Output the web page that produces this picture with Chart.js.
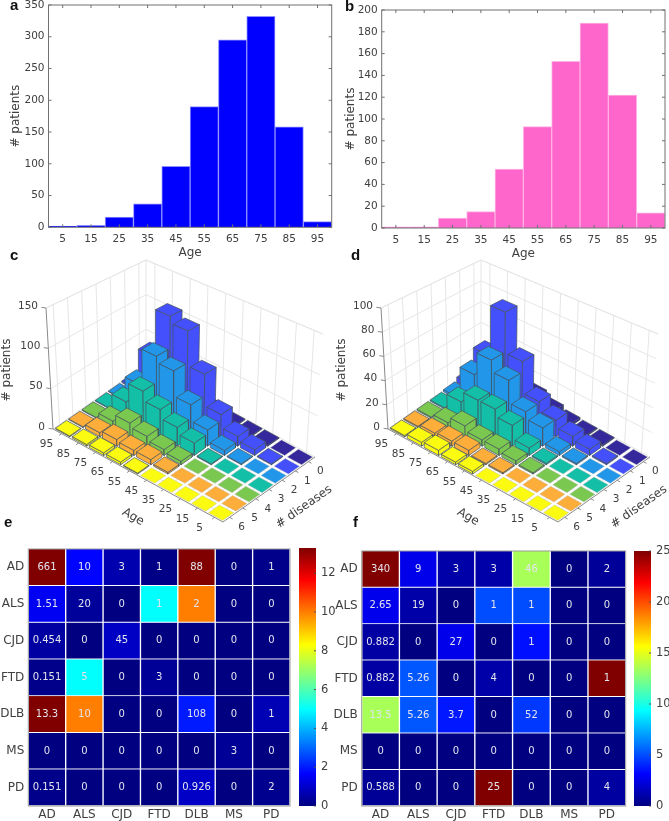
<!DOCTYPE html>
<html lang="en">
<head>
<meta charset="UTF-8">
<title>Patients by age and number of diseases</title>
<script src="https://cdn.jsdelivr.net/npm/chart.js"></script>
<style>
    html, body { margin: 0; padding: 0; background: #fff; }
    #page { position: relative; width: 669px; height: 821px; overflow: hidden; }
    canvas { position: absolute; }
    .tag { position: absolute; font: bold 15px 'Liberation Sans', sans-serif; color: #111; line-height: 15px; }
</style>
</head>
<body>
<div id="page"></div>

<script>
    // --- data ---
    const ageLabels = ['5', '15', '25', '35', '45', '55', '65', '75', '85', '95'];
    const diseaseLabels = ['0', '1', '2', '3', '4', '5', '6'];
    const dxLabels = ['AD', 'ALS', 'CJD', 'FTD', 'DLB', 'MS', 'PD'];

    const ageCountsA = [2, 3, 16, 37, 96, 190, 295, 332, 158, 9];
    const ageCountsB = [1, 1, 9, 15, 54, 93, 153, 188, 122, 14];

    // rows: age bin 5..95, columns: # diseases 0..6
    const barsC = [
        [0, 0, 0, 0, 0, 0, 0],
        [0, 1, 0, 0, 0, 0, 0],
        [1, 7, 1, 0, 0, 0, 0],
        [1, 12, 6, 1, 0, 0, 0],
        [1, 28, 20, 15, 4, 2, 0],
        [5, 68, 40, 23, 7, 6, 1],
        [15, 113, 72, 34, 12, 6, 3],
        [25, 122, 80, 46, 17, 8, 3],
        [8, 58, 32, 21, 8, 5, 2],
        [0, 2, 1, 1, 1, 1, 1]
    ];
    const barsD = [
        [0, 0, 0, 0, 0, 0, 0],
        [0, 1, 0, 0, 0, 0, 0],
        [1, 5, 1, 0, 0, 0, 0],
        [1, 8, 3, 1, 1, 0, 0],
        [2, 14, 15, 6, 3, 1, 0],
        [5, 22, 21, 17, 5, 1, 2],
        [10, 49, 40, 23, 5, 4, 2],
        [12, 85, 50, 23, 9, 4, 4],
        [5, 40, 30, 14, 4, 3, 3],
        [1, 5, 2, 1, 1, 1, 1]
    ];
    const diseaseColors = ['#35289c', '#4350fb', '#2297ea', '#14bfa8', '#7bc850', '#fdae3a', '#fbfb12'];

    // text printed in the cells
    const cellTextE = [
        ['661', '10', '3', '1', '88', '0', '1'],
        ['1.51', '20', '0', '1', '2', '0', '0'],
        ['0.454', '0', '45', '0', '0', '0', '0'],
        ['0.151', '5', '0', '3', '0', '0', '0'],
        ['13.3', '10', '0', '0', '108', '0', '1'],
        ['0', '0', '0', '0', '0', '3', '0'],
        ['0.151', '0', '0', '0', '0.926', '0', '2']
    ];
    const cellTextF = [
        ['340', '9', '3', '3', '46', '0', '2'],
        ['2.65', '19', '0', '1', '1', '0', '0'],
        ['0.882', '0', '27', '0', '1', '0', '0'],
        ['0.882', '5.26', '0', '4', '0', '0', '1'],
        ['13.5', '5.26', '3.7', '0', '52', '0', '0'],
        ['0', '0', '0', '0', '0', '0', '0'],
        ['0.588', '0', '0', '25', '0', '0', '4']
    ];
    // colour level of the cells
    const cellLevelE = [
        [13.3, 1.7, 0.6, 0.1, 13.3, 0, 0.15],
        [1.51, 0.35, 0, 5, 10, 0, 0],
        [0.454, 0, 0.9, 0, 0, 0, 0],
        [0.151, 5, 0, 0.3, 0, 0, 0],
        [13.3, 10, 0, 0, 2, 0, 0.7],
        [0, 0, 0, 0, 0, 0.3, 0],
        [0.151, 0, 0, 0, 0.926, 0, 0.2]
    ];
    const cellLevelF = [
        [25, 2.6, 1, 1, 13.5, 0, 0.6],
        [2.65, 1, 0, 5, 5, 0, 0],
        [0.882, 0, 2.6, 0, 3.5, 0, 0],
        [0.882, 5.26, 0, 1, 0, 0, 25],
        [13.5, 5.26, 3.7, 0, 4.5, 0, 0],
        [0, 0, 0, 0, 0, 0, 0],
        [0.588, 0, 0, 25, 0, 0, 0.8]
    ];

    // --- common ---
    Chart.defaults.font.family = "'DejaVu Sans', sans-serif";
    Chart.defaults.font.size = 10.5;
    Chart.defaults.color = '#404040';
    Chart.defaults.animation = false;
    Chart.defaults.responsive = false;
    Chart.defaults.plugins.legend.display = false;
    Chart.defaults.plugins.tooltip.enabled = false;

    const noGrid = { display: false, drawTicks: false, tickLength: 0 };

    const page = document.getElementById('page');
    function addCanvas(left, top, w, h) {
        const c = document.createElement('canvas');
        c.width = w; c.height = h;
        c.style.left = left + 'px'; c.style.top = top + 'px';
        c.style.width = w + 'px'; c.style.height = h + 'px';
        page.appendChild(c);
        return c;
    }
    function addTag(text, x, y) {
        const d = document.createElement('div');
        d.className = 'tag'; d.textContent = text;
        d.style.left = x + 'px'; d.style.top = y + 'px';
        page.appendChild(d);
    }
    // fixed axis size, and no room reserved for half a tick label
    function fixSize(s, prop, size) {
        s[prop] = size;
        s.paddingLeft = s.paddingRight = s.paddingTop = s.paddingBottom = 0;
    }

    // box with inward ticks, like the matlab axes
    const boxTicks = {
        id: 'boxTicks',
        afterDatasetsDraw(chart) {
            const { ctx, chartArea: a, scales } = chart;
            ctx.save();
            ctx.strokeStyle = '#707070';
            ctx.lineWidth = 1;
            ctx.strokeRect(a.left, a.top, a.right - a.left, a.bottom - a.top);
            ctx.beginPath();
            scales.x.ticks.forEach((t, i) => {
                const x = scales.x.getPixelForTick(i);
                ctx.moveTo(x, a.bottom); ctx.lineTo(x, a.bottom - 3);
                ctx.moveTo(x, a.top); ctx.lineTo(x, a.top + 3);
            });
            scales.y.ticks.forEach((t, i) => {
                const y = scales.y.getPixelForTick(i);
                ctx.moveTo(a.left, y); ctx.lineTo(a.left + 3, y);
                ctx.moveTo(a.right, y); ctx.lineTo(a.right - 3, y);
            });
            ctx.stroke();
            ctx.restore();
        }
    };

    // --- a, b: histograms ---
    function histogram(canvas, values, color, edge, yMax, step, yWidth, pad) {
        new Chart(canvas, {
            type: 'bar',
            data: { labels: ageLabels, datasets: [{ data: values, backgroundColor: color, borderColor: edge, borderWidth: 1, categoryPercentage: 1, barPercentage: 1 }] },
            options: {
                layout: { padding: pad },
                scales: {
                    x: {
                        grid: noGrid, border: { display: false },
                        ticks: { padding: 6, maxRotation: 0, autoSkip: false },
                        title: { display: true, text: 'Age', font: { size: 12 }, padding: { top: 0, bottom: 2 } },
                        afterFit: s => fixSize(s, 'height', 35)
                    },
                    y: {
                        min: 0, max: yMax,
                        grid: noGrid, border: { display: false },
                        ticks: { stepSize: step, padding: 4 },
                        title: { display: true, text: '# patients', font: { size: 12 }, padding: { top: 9, bottom: 0 } },
                        afterFit: s => fixSize(s, 'width', yWidth)
                    }
                }
            },
            plugins: [boxTicks]
        });
    }
    histogram(addCanvas(0, 0, 335, 263), ageCountsA, '#0000ff', '#8f8fff', 350, 50, 48.5, { top: 5, right: 3.3, bottom: 0.7, left: 0 });
    histogram(addCanvas(335, 0, 334, 263), ageCountsB, '#ff66cc', '#ffb0e4', 200, 20, 46.7, { top: 10, right: 4, bottom: 0, left: 0 });

    // --- c, d: 3d bars, projected on a flat chart ---
    const viewW = 334, viewH = 290, viewTop = 250;
    // view box corners in chart units: [floor, top of z axis]
    const cornerR = [[315, 207], [323, 84]];
    const cornerF = [[223, 272], [225, 134]];
    const cornerB = [[146, 114], [146, 10]];
    const cornerL = [[53, 179], [46, 58]];

    function project(age, dis, zFrac) {
        const u = (age + 0.5) / ageLabels.length, v = (dis + 0.5) / diseaseLabels.length;
        const mix = k => {
            const near = cornerR[0][k] * (1 - v) + cornerF[0][k] * v, far = cornerB[0][k] * (1 - v) + cornerL[0][k] * v;
            const nearT = cornerR[1][k] * (1 - v) + cornerF[1][k] * v, farT = cornerB[1][k] * (1 - v) + cornerL[1][k] * v;
            const low = near * (1 - u) + far * u, high = nearT * (1 - u) + farT * u;
            return low * (1 - zFrac) + high * zFrac;
        };
        return { x: mix(0), y: mix(1) };
    }
    const wire = (points, color, width) => ({ data: points, showLine: true, fill: false, borderColor: color, borderWidth: width, pointRadius: 0 });
    const face = (points, color, edge, width) => ({ data: points.concat(points[0]), showLine: true, fill: 'shape', backgroundColor: color, borderColor: edge, borderWidth: width, pointRadius: 0 });

    function bars3d(canvas, matrix, zMax, zTicks) {
        const nA = ageLabels.length, nD = diseaseLabels.length;
        const aLo = -0.5, aHi = nA - 0.5, dLo = -0.5, dHi = nD - 0.5;
        const grid = '#e6e6e6';
        const ds = [];   // painted in this order, reversed at the end

        // walls and floor grid
        ageLabels.forEach((_, a) => {
            ds.push(wire([project(a, dLo, 0), project(a, dLo, 1)], grid, 1));
            ds.push(wire([project(a, dLo, 0), project(a, dHi, 0)], grid, 1));
        });
        diseaseLabels.forEach((_, d) => {
            ds.push(wire([project(aHi, d, 0), project(aHi, d, 1)], grid, 1));
            ds.push(wire([project(aLo, d, 0), project(aHi, d, 0)], grid, 1));
        });
        zTicks.forEach(z => {
            const f = z / zMax;
            ds.push(wire([project(aHi, dHi, f), project(aHi, dLo, f), project(aLo, dLo, f)], grid, 1));
        });
        ds.push(wire([project(aHi, dLo, 0), project(aHi, dLo, 1)], grid, 1));
        ds.push(wire([project(aHi, dHi, 1), project(aHi, dLo, 1), project(aLo, dLo, 1)], grid, 1));

        // axis lines and ticks
        const axis = '#8a8a8a';
        ds.push(wire([project(aHi, dHi, 1), project(aHi, dHi, 0), project(aLo, dHi, 0), project(aLo, dLo, 0)], axis, 1));
        ageLabels.forEach((_, a) => ds.push(wire([project(a, dHi, 0), project(a, dHi + 0.18, 0)], axis, 1)));
        diseaseLabels.forEach((_, d) => ds.push(wire([project(aLo, d, 0), project(aLo - 0.18, d, 0)], axis, 1)));
        zTicks.forEach(z => ds.push(wire([project(aHi, dHi, z / zMax), project(aHi + 0.18, dHi + 0.1, z / zMax)], axis, 1)));

        // bars back to front
        const half = 0.42;
        const cells = [];
        matrix.forEach((row, a) => row.forEach((val, d) => cells.push({ a, d, val })));
        cells.sort((p, q) => (q.a - q.d) - (p.a - p.d));
        cells.forEach(({ a, d, val }) => {
            const f = val / zMax, c = diseaseColors[d], edge = '#46525c';
            const a0 = a - half, a1 = a + half, d0 = d - half, d1 = d + half;
            if (val > 0) {
                ds.push(face([project(a0, d1, 0), project(a1, d1, 0), project(a1, d1, f), project(a0, d1, f)], c, edge, 0.7));
                ds.push(face([project(a0, d0, 0), project(a0, d1, 0), project(a0, d1, f), project(a0, d0, f)], c, edge, 0.7));
            }
            ds.push(face([project(a0, d0, f), project(a0, d1, f), project(a1, d1, f), project(a1, d0, f)], c, val > 0 ? edge : '#b8b8b8', val > 0 ? 0.7 : 0.4));
        });

        const labels3d = {
            id: 'labels3d',
            afterDatasetsDraw(chart) {
                const { ctx, scales: { x, y } } = chart;
                const px = p => [x.getPixelForValue(p.x), y.getPixelForValue(p.y)];
                ctx.save();
                ctx.fillStyle = '#404040';
                ctx.font = "10.5px 'DejaVu Sans'";
                ctx.textAlign = 'center'; ctx.textBaseline = 'middle';
                ageLabels.forEach((t, a) => {
                    const [X, Y] = px(project(a, dHi, 0));
                    ctx.fillText(t, X - 15, Y + 11);
                });
                diseaseLabels.forEach((t, d) => {
                    const [X, Y] = px(project(aLo, d, 0));
                    ctx.fillText(t, X + 12, Y + 10);
                });
                ctx.textAlign = 'right';
                zTicks.forEach(z => {
                    const [X, Y] = px(project(aHi, dHi, z / zMax));
                    ctx.fillText(String(z), X - 8, Y - 2);
                });
                ctx.font = "12px 'DejaVu Sans'";
                ctx.textAlign = 'center';
                const rotated = (t, X, Y, deg) => {
                    ctx.save(); ctx.translate(X, Y); ctx.rotate(deg * Math.PI / 180);
                    ctx.fillText(t, 0, 0); ctx.restore();
                };
                rotated('Age', x.getPixelForValue(133), y.getPixelForValue(267), 30);
                rotated('# diseases', x.getPixelForValue(304), y.getPixelForValue(257), -35);
                rotated('# patients', x.getPixelForValue(7), y.getPixelForValue(120), -90);
                ctx.restore();
            }
        };

        new Chart(canvas, {
            type: 'scatter',
            data: { datasets: ds.reverse() },
            options: {
                layout: { padding: 0 },
                clip: false,
                scales: {
                    x: { display: false, min: 0, max: viewW },
                    y: { display: false, min: 0, max: viewH, reverse: true }
                }
            },
            plugins: [labels3d]
        });
    }
    bars3d(addCanvas(0, viewTop, viewW, viewH), barsC, 150, [0, 50, 100, 150]);
    bars3d(addCanvas(335, viewTop, viewW, viewH), barsD, 100, [0, 20, 40, 60, 80, 100]);

    // --- e, f: matrices with colorbar ---
    function jet(t) {
        const c = v => Math.round(255 * Math.min(1, Math.max(0, v)));
        return `rgb(${c(1.5 - Math.abs(4 * t - 3))},${c(1.5 - Math.abs(4 * t - 2))},${c(1.5 - Math.abs(4 * t - 1))})`;
    }

    function matrix(canvas, text, levels, maxLevel, yWidth, pad) {
        const cellLabels = {
            id: 'cellLabels',
            afterDatasetsDraw(chart) {
                const { ctx } = chart;
                ctx.save();
                ctx.fillStyle = '#e4e4ee';
                ctx.font = "10px 'DejaVu Sans'";
                ctx.textAlign = 'center'; ctx.textBaseline = 'middle';
                text.forEach((row, r) => {
                    const meta = chart.getDatasetMeta(r);
                    row.forEach((t, c) => {
                        const p = meta.data[c].getCenterPoint();
                        ctx.fillText(t, p.x, p.y);
                    });
                });
                ctx.strokeStyle = '#9a9a9a';
                const a = chart.chartArea;
                ctx.strokeRect(a.left, a.top, a.right - a.left, a.bottom - a.top);
                ctx.restore();
            }
        };
        new Chart(canvas, {
            type: 'bar',
            data: {
                labels: dxLabels,
                datasets: dxLabels.map((_, r) => ({
                    data: dxLabels.map(() => 1),
                    backgroundColor: levels[r].map(v => jet(Math.min(1, v / maxLevel))),
                    borderColor: '#ffffff', borderWidth: 1, categoryPercentage: 1, barPercentage: 1
                }))
            },
            options: {
                layout: { padding: pad },
                scales: {
                    x: {
                        stacked: true,
                        grid: noGrid, border: { display: false },
                        ticks: { font: { size: 12 }, padding: 2, maxRotation: 0, autoSkip: false },
                        afterFit: s => fixSize(s, 'height', 15)
                    },
                    y: {
                        stacked: true, min: 0, max: dxLabels.length, reverse: true,
                        grid: noGrid, border: { display: false },
                        afterBuildTicks: s => { s.ticks = dxLabels.map((_, i) => ({ value: i + 0.5 })); },
                        ticks: { font: { size: 12 }, padding: 4, autoSkip: false, callback: v => dxLabels[v - 0.5] },
                        afterFit: s => fixSize(s, 'width', yWidth)
                    }
                }
            },
            plugins: [cellLabels]
        });
    }

    function colorbar(canvas, maxLevel, step) {
        const tickMarks = {
            id: 'tickMarks',
            afterDatasetsDraw(chart) {
                const { ctx, chartArea: a, scales: { y } } = chart;
                ctx.save();
                ctx.strokeStyle = '#505050';
                ctx.beginPath();
                y.ticks.forEach((t, i) => {
                    const p = y.getPixelForTick(i);
                    ctx.moveTo(a.right, p); ctx.lineTo(a.right - 2, p);
                });
                ctx.stroke();
                ctx.restore();
            }
        };
        new Chart(canvas, {
            type: 'bar',
            data: {
                labels: [''],
                datasets: [{
                    data: [[0, maxLevel]],
                    categoryPercentage: 1, barPercentage: 1,
                    backgroundColor: ctx => {
                        const a = ctx.chart.chartArea;
                        if (!a) return '#000080';
                        const g = ctx.chart.ctx.createLinearGradient(0, a.bottom, 0, a.top);
                        for (let i = 0; i <= 32; i++) g.addColorStop(i / 32, jet(i / 32));
                        return g;
                    }
                }]
            },
            options: {
                layout: { padding: { top: 10, bottom: 10, left: 0, right: 0 } },
                scales: {
                    x: { display: false },
                    y: {
                        position: 'right', min: 0, max: maxLevel,
                        grid: noGrid, border: { display: false },
                        afterBuildTicks: s => { s.ticks = s.ticks.filter(t => t.value % step === 0); },
                        ticks: { font: { size: 11.5 }, stepSize: step, padding: 5 },
                        afterFit: s => fixSize(s, 'width', 30)
                    }
                }
            },
            plugins: [tickMarks]
        });
    }

    matrix(addCanvas(0, 540, 295, 281), cellTextE, cellLevelE, 13.3, 28.3, { top: 9, right: 5, bottom: 0, left: 0 });
    colorbar(addCanvas(299, 538, 47, 278), 13.3, 2);
    matrix(addCanvas(320, 540, 311, 281), cellTextF, cellLevelF, 25, 41.7, { top: 11, right: 5.3, bottom: 0, left: 0 });
    colorbar(addCanvas(634, 541, 47, 275), 25, 5);

    addTag('a', 10, -3); addTag('b', 345, -2);
    addTag('c', 10, 247); addTag('d', 351, 247);
    addTag('e', 4, 514); addTag('f', 353, 514);
</script>
</body>
</html>
